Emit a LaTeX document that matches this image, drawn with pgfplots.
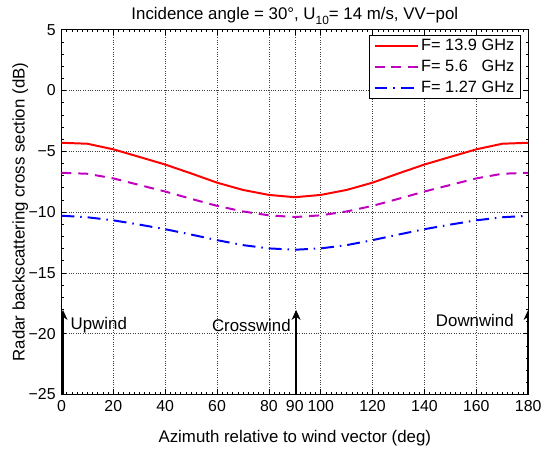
\documentclass[border=0pt]{standalone}
\usepackage{pgfplots}
\pgfplotsset{compat=1.18}
\usetikzlibrary{arrows.meta}
\usepackage{fontspec}
\setmainfont{Liberation Sans}
\definecolor{mred}{RGB}{255,0,0}
\definecolor{mmag}{RGB}{191,0,191}
\definecolor{mblue}{RGB}{0,0,255}
\begin{document}
\fontsize{17}{20}\selectfont
\begin{tikzpicture}
\begin{axis}[
  scale only axis, width=471pt, height=368pt,
  xmin=0, xmax=180, ymin=-25, ymax=5,
  xtick={0,20,40,60,80,90,100,120,140,160,180},
  ytick={-25,-20,-15,-10,-5,0,5},
  yticklabels={−25,−20,−15,−10,−5,0,5},
  minor xtick={0,2,...,180},
  minor ytick={-25,-24,...,5},
  grid=major,
  major grid style={dotted, black!75, line width=0.5pt},
  tick style={black, line width=0.5pt},
  tick align=inside,
  major tick length=5pt,
  minor tick length=2.5pt,
  axis line style={black, line width=0.5pt},
  /pgf/number format/assume math mode=true,
  ticklabel style={font=\fontsize{16}{19}\selectfont},
  label style={font=\fontsize{17}{20}\selectfont},
  xlabel={Azimuth relative to wind vector (deg)},
  ylabel={Radar backscattering cross section (dB)},
  xlabel style={yshift=-8pt},
  ylabel style={yshift=-11pt},
  title={Incidence angle = 30°, U\raisebox{-5pt}{\fontsize{12}{13}\selectfont 10}= 14 m/s, VV−pol},
  title style={font=\fontsize{17}{20}\selectfont, yshift=-7pt},
  legend style={at={(0.9835,0.986)}, anchor=north east, draw=black,
    font=\fontsize{16.5}{19}\selectfont, inner xsep=4pt, inner ysep=2pt, row sep=3pt, cells={anchor=west}},
  legend cell align=left,
  legend image code/.code={\draw[#1] (0pt,0pt) -- (44pt,0pt);},
]
\addplot[mred, line width=2pt] coordinates {
(0,-4.30) (10,-4.38) (20,-4.84) (30,-5.46) (40,-6.09) (50,-6.82) (60,-7.58) (70,-8.18) (80,-8.59) (90,-8.78)
(100,-8.59) (110,-8.18) (120,-7.58) (130,-6.82) (140,-6.09) (150,-5.46) (160,-4.84) (170,-4.38) (180,-4.30)};
\addlegendentry{F= 13.9 GHz}
\addplot[mmag, line width=2pt, dash pattern=on 10pt off 7pt] coordinates {
(0,-6.77) (10,-6.85) (20,-7.23) (30,-7.77) (40,-8.31) (50,-8.91) (60,-9.49) (70,-9.95) (80,-10.27) (90,-10.41)
(100,-10.27) (110,-9.95) (120,-9.49) (130,-8.91) (140,-8.31) (150,-7.77) (160,-7.23) (170,-6.85) (180,-6.77)};
\addlegendentry{F= 5.6 \ \ GHz}
\addplot[mblue, line width=2pt, dash pattern=on 13pt off 6pt on 1.5pt off 6pt] coordinates {
(0,-10.30) (10,-10.43) (20,-10.68) (30,-11.03) (40,-11.41) (50,-11.85) (60,-12.31) (70,-12.72) (80,-12.99) (90,-13.10)
(100,-12.99) (110,-12.72) (120,-12.31) (130,-11.85) (140,-11.41) (150,-11.03) (160,-10.68) (170,-10.43) (180,-10.30)};
\addlegendentry{F= 1.27 GHz}
\addplot[black, line width=2.6pt, -{Stealth[length=10pt,width=9pt,inset=3pt]}, forget plot] coordinates {(0.6,-25) (0.6,-18.05)};
\addplot[black, line width=2.6pt, -{Stealth[length=10pt,width=9pt,inset=3pt]}, forget plot] coordinates {(90.5,-25) (90.5,-18.05)};
\addplot[black, line width=2.6pt, -{Stealth[length=10pt,width=9pt,inset=3pt]}, forget plot] coordinates {(180,-25) (180,-18.05)};
\node[anchor=west, inner sep=0pt, font=\fontsize{17}{20}\selectfont] at (axis cs:3.5,-19.3) {Upwind};
\node[anchor=east, inner sep=0pt, font=\fontsize{17}{20}\selectfont] at (axis cs:88.5,-19.3) {Crosswind};
\node[anchor=east, inner sep=0pt, font=\fontsize{17}{20}\selectfont] at (axis cs:174.5,-18.9) {Downwind};
\end{axis}
\path ([shift={(-62pt,-52pt)}]current axis.south west) rectangle ([shift={(14pt,30pt)}]current axis.north east);
\end{tikzpicture}
\end{document}
